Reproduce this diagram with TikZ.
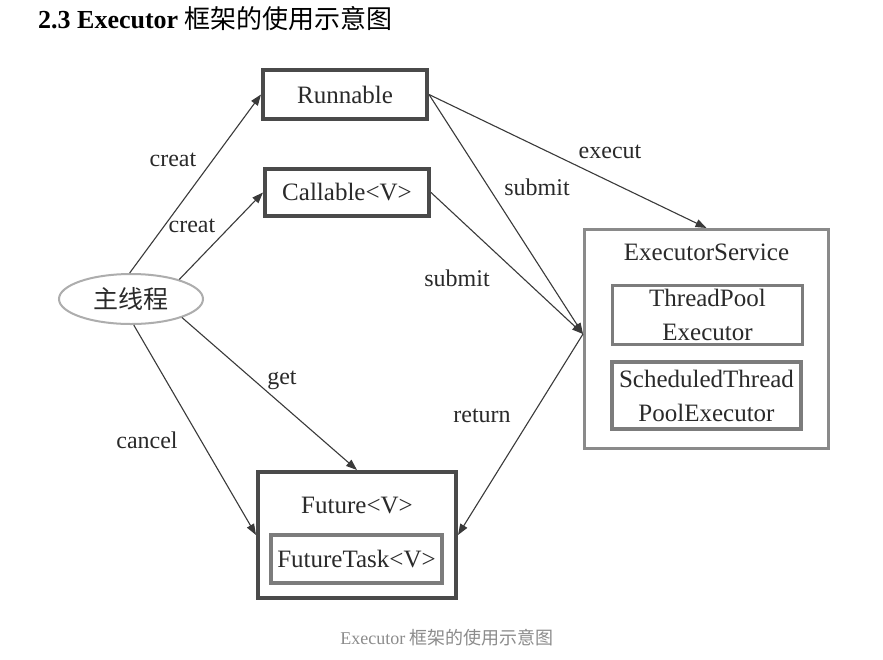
\documentclass[tikz,border=0pt]{standalone}
\usepackage{fontspec}
\setmainfont{Liberation Serif}
\newfontfamily\cjk{Noto Sans CJK SC}
\usetikzlibrary{arrows.meta,shapes.geometric}
\definecolor{dark}{HTML}{4A4A4A}
\definecolor{mid}{HTML}{8A8A8A}
\definecolor{txt}{HTML}{2A2A2A}
\definecolor{edge}{HTML}{3A3A3A}
\definecolor{cap}{HTML}{8C8C8C}
\tikzset{
  darkbox/.style={draw=dark, line width=4pt, inner sep=0pt, text=txt, font=\fontsize{25}{30}\selectfont},
  graybox/.style={draw=mid, line width=3pt, inner sep=0pt, text=txt, font=\fontsize{25}{30}\selectfont},
  innerbox/.style={draw=mid!90!black, line width=2.5pt, inner sep=0pt, text=txt, align=center, font=\fontsize{25}{34}\selectfont},
  lbl/.style={text=txt, inner sep=0pt, font=\fontsize{24}{28}\selectfont},
  conn/.style={draw=edge, line width=1.1pt, -{Triangle[length=11pt,width=8pt]}},
  plain/.style={draw=edge, line width=1.1pt}
}
\begin{document}
\begin{tikzpicture}[x=1pt,y=-1pt]
\useasboundingbox[fill=white] (0,0) rectangle (883,659);
% title
\node[anchor=west, inner sep=0pt, font=\fontsize{26}{30}\selectfont\bfseries] (title) at (38,19) {2.3 Executor {\cjk\mdseries 框架的使用示意图}};
% nodes
\node[darkbox, minimum width=164pt, minimum height=49pt] (run) at (345,94.5) {Runnable};
\node[darkbox, minimum width=164pt, minimum height=47pt] (call) at (347,192.5) {Callable<V>};
\node[ellipse, draw=mid!70, line width=2pt, minimum width=144pt, minimum height=50pt, inner sep=0pt, text=txt, font=\cjk\fontsize{25}{30}\selectfont] (main) at (131,299) {主线程};
\node[graybox, minimum width=244pt, minimum height=219pt] (es) at (706.5,339) {};
\node[text=txt, inner sep=0pt, font=\fontsize{25}{30}\selectfont] (estitle) at (706.5,252) {ExecutorService};
\node[innerbox, minimum width=190pt, minimum height=59pt] (tpe) at (707.5,315) {ThreadPool\\Executor};
\node[innerbox, line width=3.5pt, minimum width=189pt, minimum height=67pt] (stpe) at (706.5,395.5) {ScheduledThread\\PoolExecutor};
\node[darkbox, minimum width=198pt, minimum height=126pt] (fut) at (357,535) {};
\node[text=txt, inner sep=0pt, font=\fontsize{25}{30}\selectfont] (futtitle) at (357,505) {Future<V>};
\node[innerbox, line width=3.5pt, minimum width=171pt, minimum height=48pt] (ft) at (356.5,559) {FutureTask<V>};
% caption
\node[text=cap, inner sep=0pt, font=\fontsize{18}{22}\selectfont] (caption) at (447,638) {Executor {\cjk 框架的使用示意图}};
% connector points
\coordinate (esin) at (583,334);
% connectors
\draw[conn] (main.93) -- (run.west);
\draw[conn] (main.22) -- (call.west);
\draw[conn] (run.east) -- (es.north);
\draw[conn] (run.east) -- (esin);
\draw[conn] (call.east) -- (esin);
\draw[conn] (esin) -- (fut.east);
\draw[conn] (main.-20) -- (fut.north);
\draw[conn] (main.-84) -- (fut.west);
% labels
\node[lbl] (l1) at (173,160) {creat};
\node[lbl] (l2) at (192,226) {creat};
\node[lbl] (l3) at (610,152) {execut};
\node[lbl] (l4) at (537,187) {submit};
\node[lbl] (l5) at (457,278) {submit};
\node[lbl] (l6) at (482,416) {return};
\node[lbl] (l7) at (282,380) {get};
\node[lbl] (l8) at (147,440) {cancel};
\end{tikzpicture}
\end{document}
